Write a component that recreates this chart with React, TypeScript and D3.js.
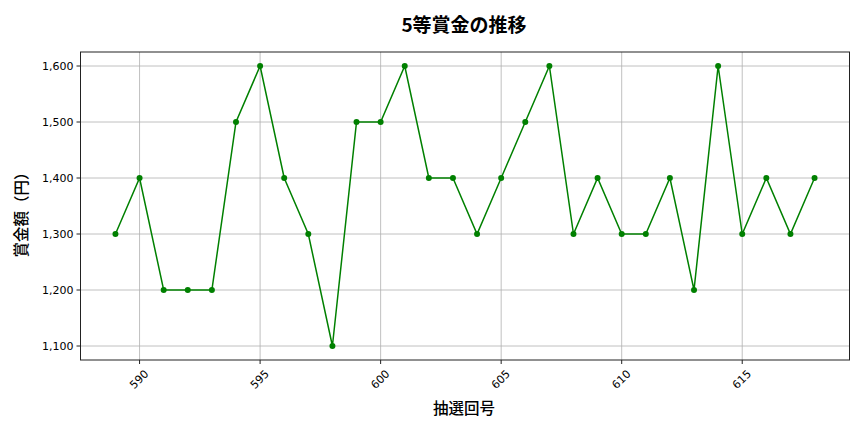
import * as d3 from "d3";

const draws = [
  589, 590, 591, 592, 593, 594, 595, 596, 597, 598, 599, 600, 601, 602, 603,
  604, 605, 606, 607, 608, 609, 610, 611, 612, 613, 614, 615, 616, 617, 618,
];
const prizes = [
  1300, 1400, 1200, 1200, 1200, 1500, 1600, 1400, 1300, 1100, 1500, 1500, 1600,
  1400, 1400, 1300, 1400, 1500, 1600, 1300, 1400, 1300, 1300, 1400, 1200, 1600,
  1300, 1400, 1300, 1400,
];
const xTicks = [590, 595, 600, 605, 610, 615];
const yTicks = [1100, 1200, 1300, 1400, 1500, 1600];

const W = 864;
const H = 432;
const M = { top: 52, right: 14.5, bottom: 72, left: 80.5 };
const FONT = "'DejaVu Sans', sans-serif";
const CJK = "'Noto Sans CJK JP', 'Noto Sans', sans-serif";

export default function App() {
  const x = d3
    .scaleLinear()
    .domain([587.55, 619.45])
    .range([M.left, W - M.right]);
  const y = d3
    .scaleLinear()
    .domain([1075, 1625])
    .range([H - M.bottom, M.top]);

  const pts = draws.map((d, i) => ({ d, v: prizes[i] }));
  const line = d3
    .line<{ d: number; v: number }>()
    .x((p) => x(p.d))
    .y((p) => y(p.v));

  const fmt = d3.format(",");
  const bottom = H - M.bottom;

  return (
    <svg
      width={W}
      height={H}
      style={{ position: "absolute", left: 0, top: 0, background: "#fff" }}
    >
      {/* grid */}
      {xTicks.map((t) => (
        <line
          key={"gx" + t}
          x1={x(t)}
          x2={x(t)}
          y1={M.top}
          y2={bottom}
          stroke="#b0b0b0"
          strokeWidth={0.8}
        />
      ))}
      {yTicks.map((t) => (
        <line
          key={"gy" + t}
          x1={M.left}
          x2={W - M.right}
          y1={y(t)}
          y2={y(t)}
          stroke="#b0b0b0"
          strokeWidth={0.8}
        />
      ))}

      {/* data */}
      <path d={line(pts) ?? ""} fill="none" stroke="green" strokeWidth={1.5} />
      {pts.map((p) => (
        <circle key={p.d} cx={x(p.d)} cy={y(p.v)} r={3} fill="green" />
      ))}

      {/* frame */}
      <rect
        x={M.left}
        y={M.top}
        width={W - M.left - M.right}
        height={bottom - M.top}
        fill="none"
        stroke="#222"
        strokeWidth={1}
      />

      {/* x ticks */}
      {xTicks.map((t) => (
        <g key={"xt" + t} transform={`translate(${x(t)},${bottom})`}>
          <line y2={4} stroke="#222" />
          <text
            transform="translate(4,9) rotate(-45)"
            textAnchor="end"
            dominantBaseline="hanging"
            fontFamily={FONT}
            fontSize={11}
            fill="#000"
          >
            {t}
          </text>
        </g>
      ))}

      {/* y ticks */}
      {yTicks.map((t) => (
        <g key={"yt" + t} transform={`translate(${M.left},${y(t)})`}>
          <line x2={-4} stroke="#222" />
          <text
            x={-7}
            textAnchor="end"
            dominantBaseline="central"
            fontFamily={FONT}
            fontSize={11}
            fill="#000"
          >
            {fmt(t)}
          </text>
        </g>
      ))}

      {/* labels */}
      <text
        x={464}
        y={32}
        textAnchor="middle"
        fontFamily={CJK}
        fontWeight="bold"
        fontSize={19}
      >
        5等賞金の推移
      </text>
      <text
        x={464}
        y={414}
        textAnchor="middle"
        fontFamily={CJK}
        fontWeight={500}
        fontSize={15.5}
      >
        抽選回号
      </text>
      <text
        transform={`translate(27,211) rotate(-90)`}
        textAnchor="middle"
        fontFamily={CJK}
        fontWeight={500}
        fontSize={15.5}
      >
        賞金額（円）
      </text>
    </svg>
  );
}
